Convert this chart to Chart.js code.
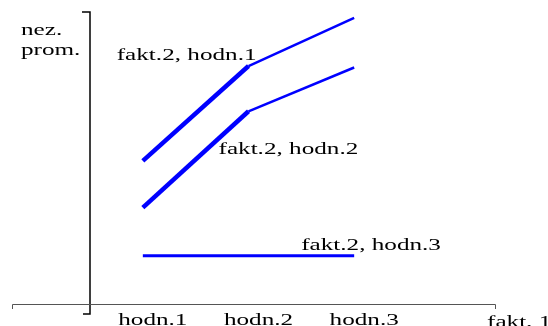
<!DOCTYPE html>
<html>
<head>
<meta charset="utf-8">
<script src="https://cdn.jsdelivr.net/npm/chart.js@4"></script>
<style>
  body { margin: 0; background: #fff; }
</style>
</head>
<body>
<canvas id="chart" width="548" height="326"></canvas>
<script>
// categories of factor 1 and values of the dependent variable for each level of factor 2
const categories = ['hodn.1', 'hodn.2', 'hodn.3'];
const seriesNames = ['fakt.2, hodn.1', 'fakt.2, hodn.2', 'fakt.2, hodn.3'];
const hodn1 = [4.9, 8.15, 9.8];
const hodn2 = [3.3, 6.6, 8.1];
const hodn3 = [1.65, 1.65, 1.65];

const FONT = '17px "Liberation Serif", "DejaVu Serif", serif';
const STRETCH = 1.48; // the original text is drawn wide

function wideText(ctx, text, x, y, align) {
    ctx.save();
    ctx.translate(x, y);
    ctx.scale(STRETCH, 1);
    ctx.textAlign = align || 'left';
    ctx.fillText(text, 0, 0);
    ctx.restore();
}

const axesPlugin = { // draws the bare axes and all the texts
    id: 'axesPlugin',
    afterDraw: function(chart) {
        const ctx = chart.ctx;
        const area = chart.chartArea;
        const xs = chart.scales.x;
        const ys = chart.scales.y;

        ctx.save();
        // y axis with small end ticks
        ctx.strokeStyle = '#000';
        ctx.lineWidth = 1.5;
        ctx.beginPath();
        ctx.moveTo(area.left - 8, area.top);
        ctx.lineTo(area.left, area.top);
        ctx.lineTo(area.left, area.bottom + 10);
        ctx.lineTo(area.left - 7, area.bottom + 10);
        ctx.stroke();

        // x axis
        ctx.strokeStyle = '#555';
        ctx.lineWidth = 1;
        ctx.beginPath();
        ctx.moveTo(12.5, area.bottom + 5);
        ctx.lineTo(12.5, area.bottom + 0.5);
        ctx.lineTo(495.5, area.bottom + 0.5);
        ctx.lineTo(495.5, area.bottom + 5);
        ctx.stroke();

        ctx.fillStyle = '#000';
        ctx.font = FONT;
        ctx.textBaseline = 'alphabetic';

        // category labels, a bit right of each point
        categories.forEach((c, i) => {
            wideText(ctx, c, xs.getPixelForValue(i) + 10, 325, 'center');
        });

        // axis titles
        wideText(ctx, 'nez.', 21, 35);
        wideText(ctx, 'prom.', 21, 55);
        wideText(ctx, 'fakt. 1', 487, 327);

        // series labels anchored at the data
        wideText(ctx, seriesNames[0], xs.getPixelForValue(1) + 8, ys.getPixelForValue(hodn1[1]) - 6, 'right');
        wideText(ctx, seriesNames[1], xs.getPixelForValue(1) - 30, ys.getPixelForValue(hodn2[1]) + 43);
        wideText(ctx, seriesNames[2], xs.getPixelForValue(2) - 53, ys.getPixelForValue(hodn3[2]) - 6);
        ctx.restore();
    }
};

const blue = '#0000ff';
const segWidth = { borderWidth: c => c.p0DataIndex === 0 ? 4.5 : 2.5 };

new Chart(document.getElementById('chart').getContext('2d'), {
    type: 'line',
    data: {
        labels: categories,
        datasets: [
            { label: seriesNames[0], data: hodn1, borderColor: blue, borderWidth: 4.5, segment: segWidth },
            { label: seriesNames[1], data: hodn2, borderColor: blue, borderWidth: 4.5, segment: segWidth },
            { label: seriesNames[2], data: hodn3, borderColor: blue, borderWidth: 3 }
        ]
    },
    options: {
        responsive: false,
        animation: false,
        events: [],
        elements: {
            point: { radius: 0 },
            line: { tension: 0, borderCapStyle: 'butt' }
        },
        layout: {
            padding: { left: 90, right: 141, top: 12, bottom: 22 }
        },
        scales: {
            x: { type: 'category', offset: true, display: false },
            y: { min: 0, max: 10, display: false }
        },
        plugins: {
            legend: { display: false },
            tooltip: { enabled: false }
        }
    },
    plugins: [axesPlugin]
});
</script>
</body>
</html>
